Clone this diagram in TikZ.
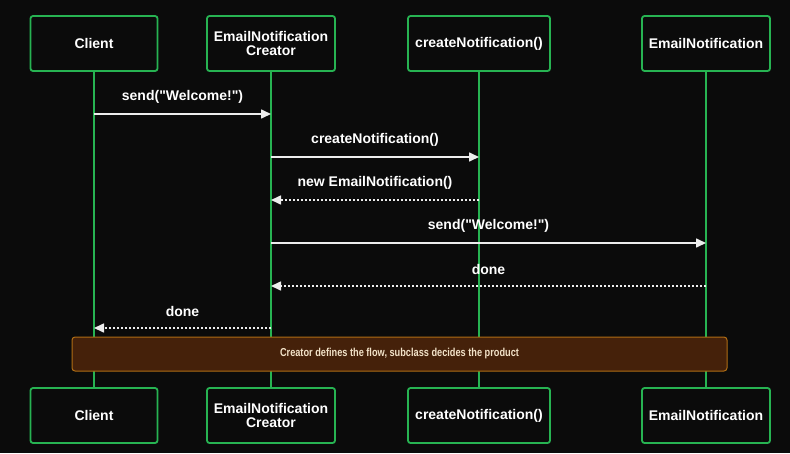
\documentclass[tikz,border=0pt]{standalone}
\usepackage{fontspec}
% family without TeX ligatures, so " stays a straight quote
\newfontfamily\uifont{Liberation Sans}
\usetikzlibrary{arrows.meta}
\definecolor{bg}{HTML}{0B0B0B}
\definecolor{lifegreen}{HTML}{27B352}
\definecolor{msgwhite}{HTML}{EDEDED}
\definecolor{notefill}{HTML}{45210A}
\definecolor{notedraw}{HTML}{B06D14}
\definecolor{notetext}{HTML}{F2E2C8}
\tikzset{
  actor/.style={draw=lifegreen, line width=1.8pt, rounded corners=2.5pt, fill=bg,
    minimum height=55pt, inner sep=0pt, align=center, text=white,
    font=\uifont\fontsize{14}{14}\selectfont\bfseries},
  lifeline/.style={lifegreen, line width=1.6pt},
  msg/.style={msgwhite, line width=1.6pt, -{Triangle[length=10pt,width=9pt]}},
  reply/.style={msg, dash pattern=on 2pt off 2pt},
  lbl/.style={text=white, font=\uifont\fontsize{14}{14}\selectfont\bfseries, midway, yshift=17pt},
  notebox/.style={draw=notedraw, fill=notefill, line width=1pt, rounded corners=3pt,
    minimum width=655pt, minimum height=34pt, inner sep=0pt, text=notetext,
    font=\uifont\fontsize{11.5}{12}\selectfont\bfseries}
}
\begin{document}
\begin{tikzpicture}[x=1pt, y=-1pt]
  \fill[bg] (0,0) rectangle (790,453);
  \useasboundingbox (0,0) rectangle (790,453);

  % participants, head row
  \node[actor, minimum width=127pt] (cT) at (94,43.5) {Client};
  \node[actor, minimum width=128pt] (eT) at (271,43.5) {EmailNotification\\Creator};
  \node[actor, minimum width=142pt] (fT) at (479,43.5) {createNotification()};
  \node[actor, minimum width=128pt] (nT) at (706,43.5) {EmailNotification};

  % participants, foot row
  \node[actor, minimum width=127pt] (cB) at (94,415.5) {Client};
  \node[actor, minimum width=128pt] (eB) at (271,415.5) {EmailNotification\\Creator};
  \node[actor, minimum width=142pt] (fB) at (479,415.5) {createNotification()};
  \node[actor, minimum width=128pt] (nB) at (706,415.5) {EmailNotification};

  % lifelines
  \draw[lifeline] (cT) -- (cB);
  \draw[lifeline] (eT) -- (eB);
  \draw[lifeline] (fT) -- (fB);
  \draw[lifeline] (nT) -- (nB);

  % messages
  \draw[msg]   (cT |- 0,114) -- node[lbl] {send("Welcome!")} (eT |- 0,114);
  \draw[msg]   (eT |- 0,157) -- node[lbl] {createNotification()} (fT |- 0,157);
  \draw[reply] (fT |- 0,200) -- node[lbl] {new EmailNotification()} (eT |- 0,200);
  \draw[msg]   (eT |- 0,243) -- node[lbl] {send("Welcome!")} (nT |- 0,243);
  \draw[reply] (nT |- 0,286) -- node[lbl] {done} (eT |- 0,286);
  \draw[reply] (eT |- 0,328) -- node[lbl] {done} (cT |- 0,328);

  % note spanning all participants
  \node[notebox] (note) at (399.5,354)
    {\scalebox{0.8}[1]{Creator defines the flow, subclass decides the product}};
\end{tikzpicture}
\end{document}
